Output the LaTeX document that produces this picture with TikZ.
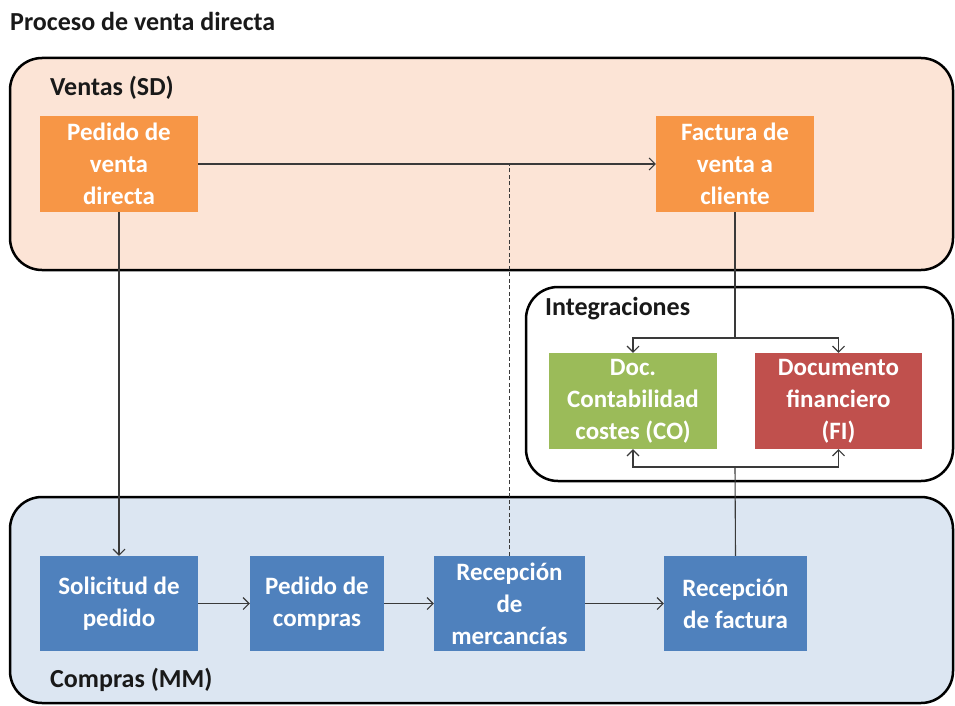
\documentclass[tikz,border=0pt]{standalone}
\usepackage{fontspec}
\setmainfont{Carlito}
\usetikzlibrary{arrows.meta}
\definecolor{peach}{HTML}{FCE4D6}
\definecolor{lblue}{HTML}{DCE6F2}
\definecolor{orangebox}{HTML}{F79646}
\definecolor{bluebox}{HTML}{4F81BD}
\definecolor{greenbox}{HTML}{9BBB59}
\definecolor{redbox}{HTML}{C0504D}
\definecolor{linec}{HTML}{3A3A3A}
\begin{document}
\begin{tikzpicture}[x=1pt,y=-1pt,
  lane/.style={line width=2.5pt, rounded corners=32pt},
  box/.style={rectangle, draw=none, text=white, font=\bfseries\fontsize{25}{32}\selectfont, align=center, inner sep=0pt},
  lbl/.style={anchor=west, inner sep=0pt, text=black!90, font=\bfseries\fontsize{26}{30}\selectfont},
  conn/.style={draw=linec, line width=1.1pt},
  arr/.style={conn, -{Straight Barb[length=6pt,width=12pt]}}
]
\useasboundingbox (0,0) rectangle (955,706);
% lanes
\draw[lane, fill=peach] (10,58) rectangle (953,270);
\draw[lane, fill=white] (526,287) rectangle (953,481);
\draw[lane, fill=lblue] (10,497) rectangle (953,703);
% labels
\node[lbl] (title) at (10,21) {Proceso de venta directa};
\node[lbl] (ventas) at (50,88) {Ventas (SD)};
\node[lbl] (integ) at (545,309) {Integraciones};
\node[lbl] (compras) at (50,680) {Compras (MM)};
% boxes
\node[box, fill=orangebox, minimum width=158pt, minimum height=96pt] (pvd) at (119,164) {Pedido de\\venta\\directa};
\node[box, fill=orangebox, minimum width=158pt, minimum height=96pt] (fvc) at (735,164) {Factura de\\venta a\\cliente};
\node[box, fill=greenbox, minimum width=168pt, minimum height=96pt] (dcc) at (633,401) {Doc.\\Contabilidad\\costes (CO)};
\node[box, fill=redbox, minimum width=167pt, minimum height=96pt] (dfi) at (838.5,401) {Documento\\financiero\\(FI)};
\node[box, fill=bluebox, minimum width=158pt, minimum height=95pt] (sol) at (119,603.5) {Solicitud de\\pedido};
\node[box, fill=bluebox, minimum width=134pt, minimum height=95pt] (pc) at (317,603.5) {Pedido de\\compras};
\node[box, fill=bluebox, minimum width=151pt, minimum height=95pt] (rm) at (509.5,603.5) {Recepción\\de\\mercancías};
\node[box, fill=bluebox, minimum width=143pt, minimum height=95pt] (rf) at (735.5,603.5) {Recepción\\de factura};
% connectors
\draw[arr] (pvd.east) -- (fvc.west);
\draw[conn, dash pattern=on 4pt off 2.5pt] (rm.north) -- (rm.north |- pvd.east);
\draw[arr] (pvd.south) -- (sol.north);
\draw[arr] (sol.east) -- (pc.west);
\draw[arr] (pc.east) -- (rm.west);
\draw[arr] (rm.east) -- (rf.west);
\coordinate (jt) at (735,338);
\coordinate (jb) at (735,467);
\draw[conn] (fvc.south) -- (jt);
\draw[arr] (jt) -| (dcc.north);
\draw[arr] (jt) -| (dfi.north);
\draw[conn] (rf.north) -- (jb);
\draw[arr] (jb) -| (dcc.south);
\draw[arr] (jb) -| (dfi.south);
\end{tikzpicture}
\end{document}
